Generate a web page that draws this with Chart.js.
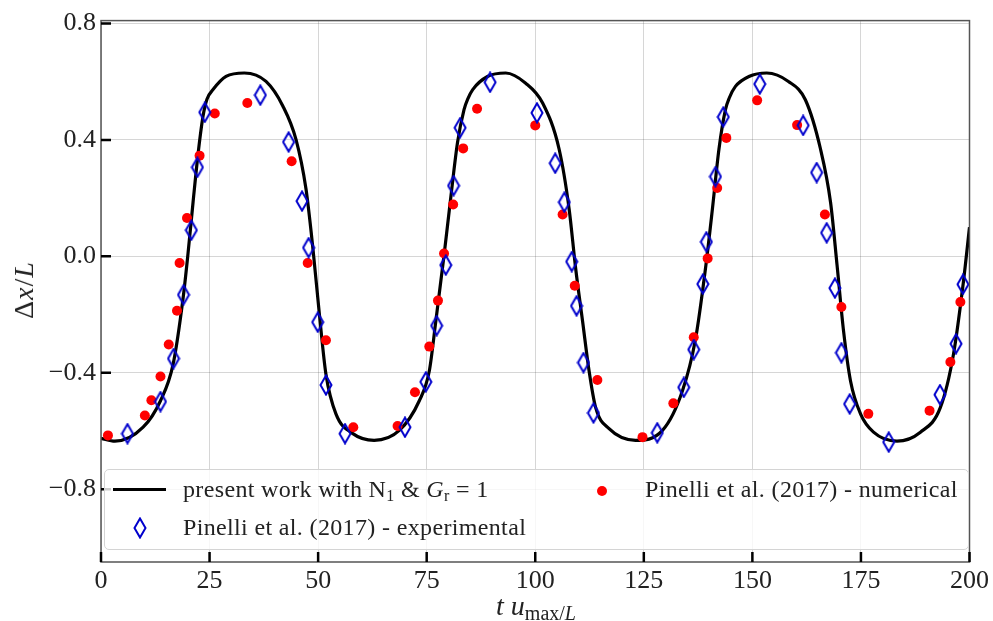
<!DOCTYPE html>
<html>
<head>
<meta charset="utf-8">
<script src="https://cdn.jsdelivr.net/npm/chart.js@4.4.0/dist/chart.umd.min.js"></script>
<style>
    html, body { margin: 0; padding: 0; background: #fff; }
    #wrap { position: relative; width: 993px; height: 621px; overflow: hidden; }
    #chart { position: absolute; left: 0; top: 0; }
    .serif { font-family: "Liberation Serif", "Times New Roman", serif; color: #222; white-space: nowrap; }
    .axis-title { position: absolute; font-size: 28px; line-height: 28px; }
    #ylabel { left: 24px; top: 290px; transform: translate(-50%, -50%) rotate(-90deg); letter-spacing: 1px; }
    #xlabel { left: 536px; top: 592px; transform: translateX(-50%); }
    #xlabel sub { font-size: 20px; vertical-align: -5px; font-style: normal; }
    #legend {
        position: absolute; left: 104px; top: 469px; width: 863px; height: 79px;
        border: 1px solid #d4d4d4; border-radius: 5px; background: rgba(255, 255, 255, 0.8);
    }
    .leg-text { position: absolute; font-size: 24px; line-height: 24px; letter-spacing: 0.35px; }
    .leg-text sub { font-size: 16px; vertical-align: -4px; }
    .handle-line { position: absolute; height: 3px; background: #000; }
    .handle-dot { position: absolute; width: 10px; height: 10px; border-radius: 50%; background: #ff0000; }
    .handle-diamond { position: absolute; }
</style>
</head>
<body>
<div id="wrap">
    <canvas id="chart" width="993" height="621"></canvas>
    <div id="ylabel" class="serif axis-title">&Delta;<i>x</i>/<i>L</i></div>
    <div id="xlabel" class="serif axis-title"><i>t</i> <i>u</i><sub>max/<i>L</i></sub></div>
    <div id="legend">
        <div class="handle-line" style="left:8px; top:18px; width:53px;"></div>
        <div class="serif leg-text" style="left:78px; top:7px;">present work with N<sub>1</sub> &amp; <i>G</i><sub>r</sub> = 1</div>
        <svg class="handle-diamond" style="left:28px; top:47px;" width="14" height="22">
            <polygon points="7,1.5 12.5,11 7,20.5 1.5,11" fill="none" stroke="#0000cd" stroke-width="2"/>
        </svg>
        <div class="serif leg-text" style="left:78px; top:45px;">Pinelli et al. (2017) - experimental</div>
        <div class="handle-dot" style="left:492px; top:16px;"></div>
        <div class="serif leg-text" style="left:540px; top:7px;">Pinelli et al. (2017) - numerical</div>
    </div>
</div>
<script>
// Tick values
const xTicks = [0, 25, 50, 75, 100, 125, 150, 175, 200];
const yTicks = [-0.8, -0.4, 0.0, 0.4, 0.8];

// Present work (solid curve)
const curveT = [0, 3.2, 9.7, 13.7, 16.6, 18.9, 20.0, 21.2, 22.3, 23.5, 24.4, 25.8, 28.8, 33.0, 38.0, 41.9, 44.9, 47.2, 48.8, 50.3,
    51.8, 54.1, 58.0, 62.9, 68.7, 73.3, 75.6, 77.1, 79.0, 80.6, 82.1, 83.6, 84.5, 85.6, 89.0, 93.2, 97.8, 101.7, 105.5, 107.8,
    109.3, 110.9, 112.4, 113.9, 117.0, 123.1, 129.3, 133.9, 136.9, 139.3, 140.8, 142.3, 143.8, 144.7, 146.1, 149.2, 153.3, 158.3,
    162.2, 165.7, 168.0, 169.5, 171.0, 172.6, 174.9, 177.9, 183.3, 188.7, 193.3, 196.3, 198.6, 200];
const curveY = [-0.625, -0.635, -0.587, -0.496, -0.371, -0.144, 0.004, 0.186, 0.345, 0.482, 0.540, 0.573, 0.618, 0.630, 0.601, 0.516, 0.402, 0.232, 0.027, -0.200,
    -0.405, -0.541, -0.609, -0.632, -0.598, -0.496, -0.394, -0.223, 0.004, 0.209, 0.391, 0.504, 0.542, 0.573, 0.618, 0.630, 0.595, 0.527, 0.368, 0.163,
    -0.041, -0.223, -0.394, -0.519, -0.592, -0.632, -0.598, -0.462, -0.285, -0.030, 0.163, 0.368, 0.504, 0.545, 0.584, 0.618, 0.630, 0.601,
    0.538, 0.368, 0.186, -0.030, -0.257, -0.428, -0.541, -0.604, -0.635, -0.604, -0.519, -0.337, -0.087, 0.100];

// Pinelli et al. (2017) - numerical
const numT = [1.6, 10.1, 11.6, 13.7, 15.6, 17.5, 18.1, 19.8, 22.7, 26.2, 33.7, 43.9, 47.6, 51.8, 58.1, 68.3, 72.3, 75.6, 77.6, 79.0,
    81.1, 83.4, 86.6, 100.0, 106.3, 109.1, 114.3, 124.7, 131.8, 136.5, 139.7, 141.9, 144.0, 151.1, 160.3, 166.7, 170.5, 176.7, 190.8, 195.6, 197.9];
const numY = [-0.615, -0.547, -0.494, -0.413, -0.303, -0.187, -0.023, 0.132, 0.346, 0.491, 0.527, 0.327, -0.023, -0.288, -0.587, -0.583, -0.467, -0.310, -0.152, 0.010,
    0.178, 0.371, 0.507, 0.450, 0.144, -0.101, -0.425, -0.621, -0.505, -0.278, -0.007, 0.235, 0.407, 0.536, 0.451, 0.144, -0.174, -0.541, -0.530, -0.363, -0.157];

// Pinelli et al. (2017) - experimental
const expT = [6.1, 13.7, 16.7, 19.0, 20.8, 22.2, 23.9, 36.7, 43.2, 46.3, 47.8, 49.9, 51.8, 56.2, 70.0, 74.8, 77.3, 79.4, 81.2, 82.7,
    89.6, 100.4, 104.6, 106.7, 108.4, 109.5, 111.1, 113.4, 128.1, 134.2, 136.5, 138.6, 139.4, 141.5, 143.3, 151.7, 161.7, 164.8, 167.1, 169.0,
    170.5, 172.4, 181.4, 193.2, 196.9, 198.5];
const expY = [-0.609, -0.499, -0.351, -0.132, 0.090, 0.306, 0.495, 0.554, 0.393, 0.190, 0.030, -0.226, -0.442, -0.609, -0.587, -0.431, -0.238, -0.030, 0.243, 0.442,
    0.598, 0.493, 0.320, 0.186, -0.018, -0.170, -0.365, -0.538, -0.606, -0.450, -0.320, -0.095, 0.050, 0.274, 0.479, 0.592, 0.450, 0.288, 0.081, -0.109,
    -0.331, -0.507, -0.638, -0.475, -0.300, -0.096];

const FONT = '"Liberation Serif", "Times New Roman", serif';
const BLUE = '#0000cd';
const RED = '#ff0000';

function toPoints(xs, ys) {
    return xs.map((x, i) => ({ x: x, y: ys[i] }));
}

// Open thin diamond used as point style
function makeDiamond() {
    const c = document.createElement('canvas');
    c.width = 14;
    c.height = 22;
    const g = c.getContext('2d');
    g.strokeStyle = BLUE;
    g.lineWidth = 2;
    g.beginPath();
    g.moveTo(7, 1.5);
    g.lineTo(12.5, 11);
    g.lineTo(7, 20.5);
    g.lineTo(1.5, 11);
    g.closePath();
    g.stroke();
    return c;
}

function formatTick(v) {
    const s = Math.abs(v).toFixed(1);
    return v < -1e-9 ? '\u2212' + s : s;
}

// Spines on all sides, inward ticks on left and bottom
const framePlugin = {
    id: 'frame',
    afterDatasetsDraw(chart) {
        const { ctx, chartArea: a, scales } = chart;
        ctx.save();
        ctx.strokeStyle = '#555';
        ctx.lineWidth = 1.5;
        ctx.strokeRect(a.left, a.top, a.right - a.left, a.bottom - a.top);
        ctx.strokeStyle = '#000';
        ctx.lineWidth = 2.5;
        ctx.beginPath();
        xTicks.forEach(t => {
            const px = scales.x.getPixelForValue(t);
            ctx.moveTo(px, a.bottom);
            ctx.lineTo(px, a.bottom - 10);
        });
        yTicks.forEach(t => {
            const py = scales.y.getPixelForValue(t);
            ctx.moveTo(a.left, py);
            ctx.lineTo(a.left + 10, py);
        });
        ctx.stroke();
        ctx.restore();
    }
};

const ctx = document.getElementById('chart').getContext('2d');

new Chart(ctx, {
    type: 'line',
    data: {
        datasets: [{
            label: 'Pinelli et al. (2017) - experimental',
            data: toPoints(expT, expY),
            showLine: false,
            pointStyle: makeDiamond(),
            order: 1
        }, {
            label: 'Pinelli et al. (2017) - numerical',
            data: toPoints(numT, numY),
            showLine: false,
            pointStyle: 'circle',
            pointRadius: 5,
            backgroundColor: RED,
            borderWidth: 0,
            order: 2
        }, {
            label: 'present work with N1 & Gr = 1',
            data: toPoints(curveT, curveY),
            borderColor: '#000',
            borderWidth: 3.2,
            pointRadius: 0,
            cubicInterpolationMode: 'monotone',
            fill: false,
            order: 3
        }]
    },
    options: {
        responsive: false,
        animation: false,
        devicePixelRatio: 1,
        layout: { padding: { left: 0, top: 18, right: 22, bottom: 0 } },
        plugins: {
            legend: { display: false },
            tooltip: { enabled: false }
        },
        scales: {
            x: {
                type: 'linear',
                min: 0,
                max: 200,
                afterBuildTicks: scale => { scale.ticks = xTicks.map(v => ({ value: v })); },
                afterFit: scale => { scale.height = 59; },
                ticks: {
                    font: { family: FONT, size: 26 },
                    color: '#222',
                    padding: 4,
                    maxRotation: 0,
                    callback: v => String(v)
                },
                grid: { color: 'rgba(0,0,0,0.16)', lineWidth: 1, drawTicks: false },
                border: { display: false }
            },
            y: {
                min: -1.05,
                max: 0.81,
                afterBuildTicks: scale => { scale.ticks = yTicks.map(v => ({ value: v })); },
                afterFit: scale => { scale.width = 101; },
                ticks: {
                    font: { family: FONT, size: 26 },
                    color: '#222',
                    padding: 5,
                    callback: v => formatTick(v)
                },
                grid: { color: 'rgba(0,0,0,0.16)', lineWidth: 1, drawTicks: false },
                border: { display: false }
            }
        }
    },
    plugins: [framePlugin]
});
</script>
</body>
</html>
